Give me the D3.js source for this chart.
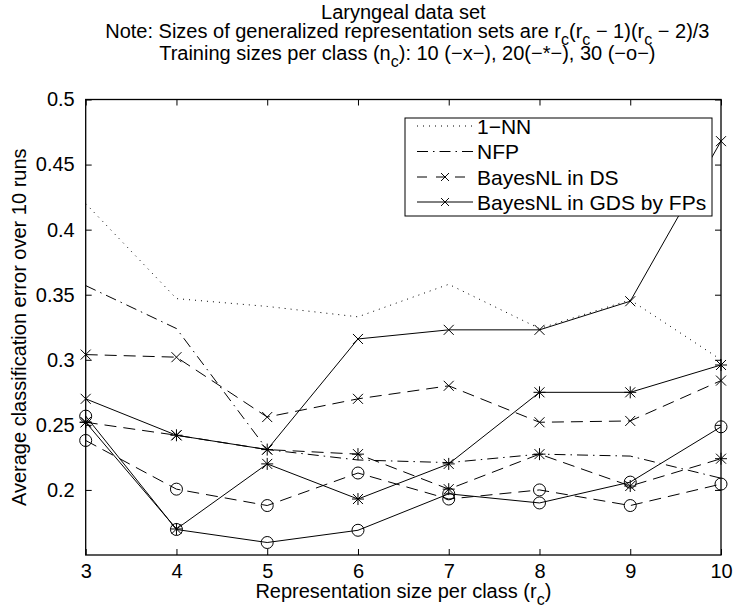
<!DOCTYPE html>
<html>
<head>
<meta charset="utf-8">
<script src="https://cdn.jsdelivr.net/npm/d3@7"></script>
<style>
  html, body { margin: 0; padding: 0; background: #fff; }
  svg text { font-family: "Liberation Sans", Arial, Helvetica, sans-serif; fill: #000; }
</style>
</head>
<body>
<svg id="chart" width="734" height="611"></svg>
<script>
// Representation size per class (r_c)
const rc = [3, 4, 5, 6, 7, 8, 9, 10];

// Reference classifiers
const nn1 = [0.420, 0.347, 0.341, 0.333, 0.358, 0.324, 0.346, 0.300];
const nfp = [0.357, 0.324, 0.231, 0.223, 0.221, 0.2275, 0.226, 0.209];

// BayesNL in the dissimilarity space, training sizes 10 / 20 / 30
const ds10 = [0.304, 0.302, 0.256, 0.270, 0.280, 0.252, 0.253, 0.284];
const ds20 = [0.252, 0.242, 0.231, 0.2275, 0.2006, 0.2275, 0.203, 0.224];
const ds30 = [0.238, 0.2006, 0.188, 0.213, 0.193, 0.200, 0.188, 0.2045];

// BayesNL in the generalized dissimilarity space by feature lines
const gds10 = [0.270, 0.242, 0.231, 0.316, 0.323, 0.323, 0.345, 0.468];
const gds20 = [0.252, 0.170, 0.220, 0.193, 0.220, 0.275, 0.275, 0.296];
const gds30 = [0.2567, 0.1696, 0.1596, 0.169, 0.197, 0.190, 0.206, 0.2485];

const yTicks = [0.2, 0.25, 0.3, 0.35, 0.4, 0.45, 0.5];
const yTickLabels = ["0.2", "0.25", "0.3", "0.35", "0.4", "0.45", "0.5"];
const xTicks = [3, 4, 5, 6, 7, 8, 9, 10];

const legendLabels = ["1\u2212NN", "NFP", "BayesNL in DS", "BayesNL in GDS by FPs"];

const svg = d3.select("#chart");
const L = 85.7, R = 721, T = 99.5, B = 555;
const x = d3.scaleLinear().domain([3, 10]).range([L, R]);
const y = d3.scaleLinear().domain([0.15, 0.5]).range([B, T]);

const FS = 20;
const dashStyles = {
  dotted: "1 5",
  dashdot: "11 5 1.5 5",
  dashed: "12 7",
  solid: null
};

// Marker shapes
function markerPath(type) {
  const s = 5;
  if (type === "x") return `M${-s},${-s}L${s},${s}M${-s},${s}L${s},${-s}`;
  if (type === "star") {
    const p = 6;
    return `M${-s},${-s}L${s},${s}M${-s},${s}L${s},${-s}M${-p},0L${p},0M0,${-p}L0,${p}`;
  }
  if (type === "o") return d3.symbol().type(d3.symbolCircle).size(Math.PI * 36)();
  return null;
}

const series = [
  { v: nn1, style: "dotted", marker: null },
  { v: nfp, style: "dashdot", marker: null },
  { v: ds10, style: "dashed", marker: "x" },
  { v: ds20, style: "dashed", marker: "star" },
  { v: ds30, style: "dashed", marker: "o" },
  { v: gds10, style: "solid", marker: "x" },
  { v: gds20, style: "solid", marker: "star" },
  { v: gds30, style: "solid", marker: "o" }
];

const line = d3.line().x((d, i) => x(rc[i])).y(d => y(d));

const plot = svg.append("g");
series.forEach(s => {
  plot.append("path")
    .attr("d", line(s.v))
    .attr("fill", "none")
    .attr("stroke", "#000")
    .attr("stroke-width", 1)
    .attr("stroke-dasharray", dashStyles[s.style]);
  if (s.marker) {
    plot.selectAll(null).data(s.v).enter().append("path")
      .attr("transform", (d, i) => `translate(${x(rc[i])},${y(d)})`)
      .attr("d", markerPath(s.marker))
      .attr("fill", "none")
      .attr("stroke", "#000")
      .attr("stroke-width", 1);
  }
});

// Axes box and ticks (inward, on all four sides)
const axL = svg.append("g").attr("transform", `translate(${L},0)`)
  .call(d3.axisLeft(y).tickValues(yTicks).tickSizeInner(-6).tickSizeOuter(0).tickPadding(11)
    .tickFormat((d, i) => yTickLabels[i]));
const axB = svg.append("g").attr("transform", `translate(0,${B})`)
  .call(d3.axisBottom(x).tickValues(xTicks).tickSizeInner(-6).tickSizeOuter(0).tickPadding(9)
    .tickFormat(d3.format("d")));
const axR = svg.append("g").attr("transform", `translate(${R},0)`)
  .call(d3.axisRight(y).tickValues(yTicks).tickSizeInner(-6).tickSizeOuter(0).tickFormat(""));
const axT = svg.append("g").attr("transform", `translate(0,${T})`)
  .call(d3.axisTop(x).tickValues(xTicks).tickSizeInner(-6).tickSizeOuter(0).tickFormat(""));
[axL, axB, axR, axT].forEach(g => {
  g.select(".domain").remove();
  g.selectAll("line").attr("stroke", "#000").attr("stroke-width", 1);
  g.selectAll("text").attr("font-size", FS).attr("font-family", "Liberation Sans, Arial, sans-serif");
});
svg.append("rect")
  .attr("x", L).attr("y", T).attr("width", R - L).attr("height", B - T)
  .attr("fill", "none").attr("stroke", "#000").attr("stroke-width", 1.3);

// Text with lowered subscript c
const SUB_DY = 7;
function richText(g, parts) {
  let shift = 0;
  parts.forEach(p => {
    if (typeof p === "string") {
      g.append("tspan").attr("dy", -shift).text(p);
      shift = 0;
    } else {
      g.append("tspan").attr("dy", SUB_DY).attr("font-size", 16).text(p.sub);
      shift = SUB_DY;
    }
  });
}

const cx = (L + R) / 2;
svg.append("text").attr("x", cx).attr("y", 18.5).attr("text-anchor", "middle")
  .attr("font-size", FS).text("Laryngeal data set");
richText(svg.append("text").attr("x", cx + 4).attr("y", 38).attr("text-anchor", "middle").attr("font-size", FS),
  ["Note: Sizes of generalized representation sets are r", { sub: "c" }, "(r", { sub: "c" },
   " \u2212 1)(r", { sub: "c" }, " \u2212 2)/3"]);
richText(svg.append("text").attr("x", cx + 4).attr("y", 60).attr("text-anchor", "middle").attr("font-size", FS),
  ["Training sizes per class (n", { sub: "c" }, "): 10 (\u2212x\u2212), 20(\u2212*\u2212), 30 (\u2212o\u2212)"]);

// Axis labels
richText(svg.append("text").attr("x", cx).attr("y", 598).attr("text-anchor", "middle").attr("font-size", FS),
  ["Representation size per class (r", { sub: "c" }, ")"]);
svg.append("text")
  .attr("transform", `translate(26,${(T + B) / 2}) rotate(-90)`)
  .attr("text-anchor", "middle").attr("font-size", FS)
  .text("Average classification error over 10 runs");

// Legend
const lg = svg.append("g");
lg.append("rect").attr("x", 405).attr("y", 118).attr("width", 307).attr("height", 98)
  .attr("fill", "#fff").attr("stroke", "#000").attr("stroke-width", 1);
const legendStyles = [
  { style: "dotted", marker: null },
  { style: "dashdot", marker: null },
  { style: "dashed", marker: "x" },
  { style: "solid", marker: "x" }
];
const rowY = [126, 151.5, 177, 202];
legendLabels.forEach((lab, i) => {
  const st = legendStyles[i];
  lg.append("line").attr("x1", 417).attr("x2", 473).attr("y1", rowY[i]).attr("y2", rowY[i])
    .attr("stroke", "#000").attr("stroke-width", 1)
    .attr("stroke-dasharray", st.style === "dashed" ? "10 9 " : dashStyles[st.style]);
  if (st.marker) {
    lg.append("path").attr("transform", `translate(445,${rowY[i]}) scale(0.8)`)
      .attr("d", markerPath(st.marker)).attr("fill", "none").attr("stroke", "#000").attr("stroke-width", 1.2);
  }
  lg.append("text").attr("x", 477).attr("y", rowY[i]).attr("dy", "0.36em")
    .attr("font-size", 21).text(lab);
});
</script>
</body>
</html>
